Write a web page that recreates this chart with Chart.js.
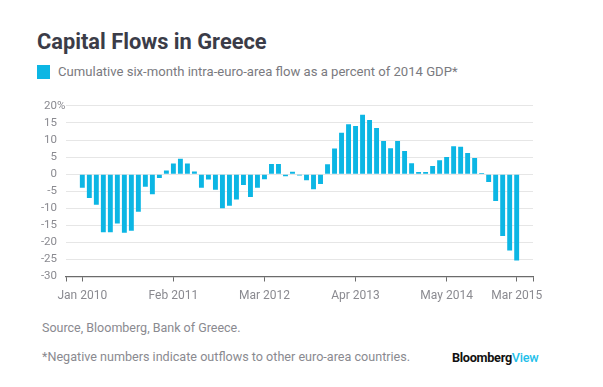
<!DOCTYPE html>
<html>
<head>
<meta charset="utf-8">
<script src="https://cdn.jsdelivr.net/npm/chart.js@4"></script>
<style>
  html, body { margin: 0; padding: 0; background: #fff; }
  body { width: 603px; height: 387px; position: relative; overflow: hidden; font-family: Roboto, sans-serif; }
  .txt { position: absolute; white-space: nowrap; }
  #title { left: 37px; top: 29px; font-size: 21.8px; font-weight: 700; color: #3b3c48; }
  #legend { left: 37px; top: 64px; font-size: 13.1px; color: #7a7a80; }
  #legend .sw { display: inline-block; width: 13px; height: 14px; background: #0cb6e4; vertical-align: -3px; margin-right: 8px; }
  #source { left: 42px; top: 320px; font-size: 12.5px; color: #8a8a90; }
  #note { left: 42px; top: 349px; font-size: 12.6px; color: #8a8a90; }
  #logo { left: 452px; top: 350px; font-size: 12.7px; font-weight: 700; color: #111; letter-spacing: -0.3px; }
  #logo span { color: #1ec0ea; font-weight: 500; }
  #chart { position: absolute; left: 0; top: 90px; }
</style>
</head>
<body>
<div id="title" class="txt">Capital Flows in Greece</div>
<div id="legend" class="txt"><span class="sw"></span>Cumulative six-month intra-euro-area flow as a percent of 2014 GDP*</div>
<canvas id="chart" width="603" height="225"></canvas>
<div id="source" class="txt">Source, Bloomberg, Bank of Greece.</div>
<div id="note" class="txt">*Negative numbers indicate outflows to other euro-area countries.</div>
<div id="logo" class="txt">Bloomberg<span>View</span></div>
<script>
/* ─── Data: monthly, Jan 2010 → Mar 2015 ─────────────────── */
const flows = [
  -4, -7, -9, -17, -17, -14.5, -17.2, -16.6, -11, -3.7, -5.9, -1.1,
  1.1, 3.1, 4.5, 3.1, 0.8, -4, -1.6, -4.6, -10, -9.3, -7.4, -3.2,
  -6.7, -4, -1.5, 3, 3, -0.6, 0.7, -0.4, -1.8, -4.4, -2.9, 2.9,
  7.5, 12.1, 14.6, 14.1, 17.4, 15.9, 13.5, 9.7, 7.6, 9.7, 6.8, 3.2,
  0.6, 0.6, 2.4, 4.1, 5.0, 8.2, 8.0, 6.2, 4.7, 0.3, -2.3, -7.9,
  -18.1, -22.4, -25.3
];
const tickMonths = [0, 13, 26, 39, 52, 62];
const tickLabels = ['Jan 2010', 'Feb 2011', 'Mar 2012', 'Apr 2013', 'May 2014', 'Mar 2015'];
const yTicks = [-30, -25, -20, -15, -10, -5, 0, 5, 10, 15, 20];

const X_MIN = -2.33, X_MAX = 64.33;

/* ─── Percent sign hanging past the top label ─────────────── */
const pctPlugin = {
  id: 'pct',
  afterDraw(chart) {
    const y = chart.scales.y;
    const ctx = chart.ctx;
    ctx.save();
    ctx.font = '11.5px Roboto, sans-serif';
    ctx.fillStyle = '#8a8a90';
    ctx.textAlign = 'left';
    ctx.textBaseline = 'middle';
    ctx.fillText('%', chart.chartArea.left - 9, y.getPixelForValue(20));
    ctx.restore();
  }
};

new Chart(document.getElementById('chart'), {
  type: 'bar',
  data: {
    datasets: [{
      data: flows.map((v, i) => ({ x: i, y: v })),
      backgroundColor: '#0cb6e4',
      borderWidth: 0,
      barPercentage: 0.7,
      categoryPercentage: 1
    }]
  },
  options: {
    responsive: false,
    animation: false,
    layout: { padding: { top: 5, right: 70, left: 0, bottom: 0 } },
    plugins: { legend: { display: false }, tooltip: { enabled: false } },
    scales: {
      x: {
        type: 'linear',
        min: X_MIN,
        max: X_MAX,
        offset: false,
        afterFit: s => { s.height = 38.5; },
        afterBuildTicks: s => {
          s.ticks = [X_MIN, ...tickMonths, X_MAX].map(v => ({ value: v }));
        },
        grid: { offset: false, drawOnChartArea: false, drawTicks: true, tickLength: 5, color: '#6b6b6b', lineWidth: 1 },
        border: { display: true, color: '#6b6b6b', width: 1.2 },
        ticks: {
          autoSkip: false,
          maxRotation: 0,
          padding: 7,
          color: '#8a8a90',
          font: { family: 'Roboto', size: 12 },
          callback: v => {
            const k = tickMonths.indexOf(v);
            return k >= 0 ? tickLabels[k] : '';
          }
        }
      },
      y: {
        min: -30,
        max: 20,
        afterFit: s => { s.width = 66; },
        afterBuildTicks: s => { s.ticks = yTicks.map(v => ({ value: v })); },
        grid: { color: '#e6e6e6', drawTicks: false, lineWidth: 1 },
        border: { display: false },
        ticks: {
          autoSkip: false,
          padding: 9,
          color: '#8a8a90',
          font: { family: 'Roboto', size: 11.5 },
          callback: v => String(v)
        }
      }
    }
  },
  plugins: [pctPlugin]
});
</script>
</body>
</html>
